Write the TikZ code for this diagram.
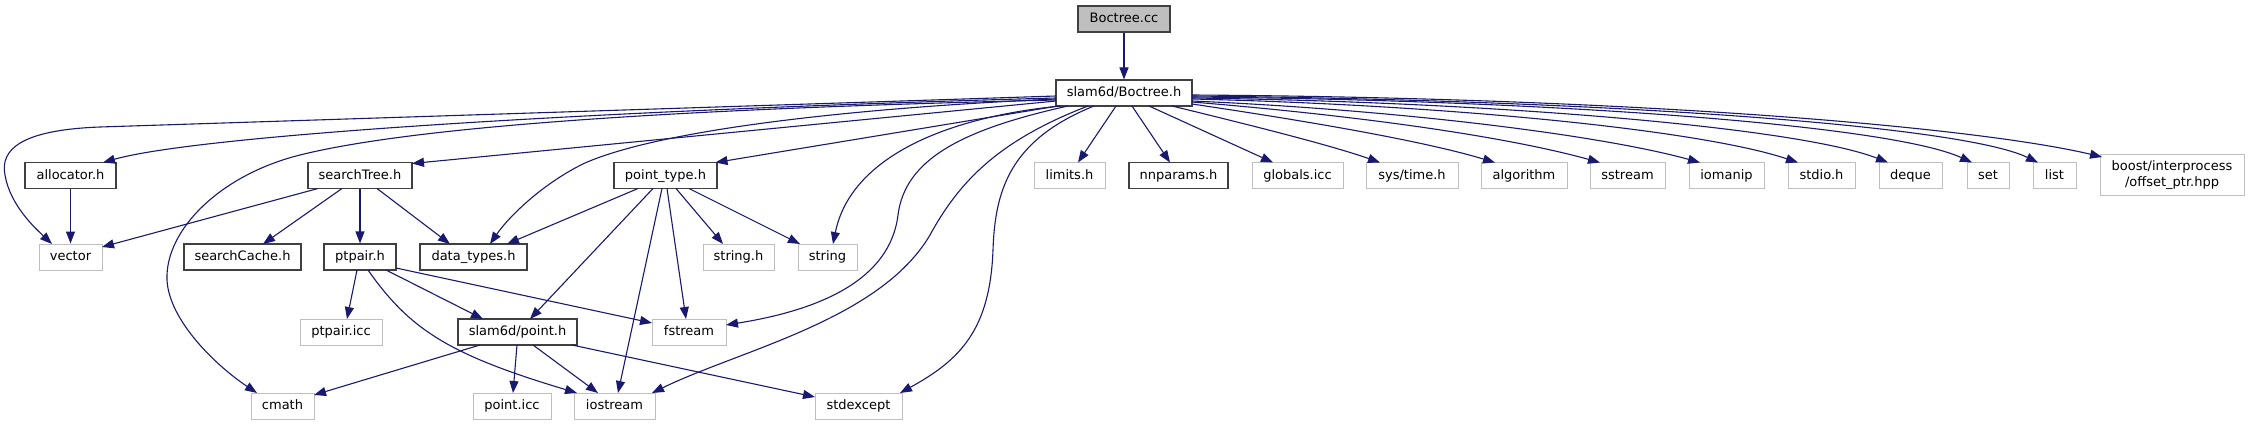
\documentclass[tikz,border=0pt]{standalone}
\usepackage{fontspec}
\setmainfont{DejaVu Sans}
\usetikzlibrary{arrows.meta,calc}
\definecolor{edgec}{HTML}{191970}
\definecolor{docb}{HTML}{404040}
\definecolor{extb}{HTML}{BFBFBF}
\definecolor{curf}{HTML}{BFBFBF}
\begin{document}
\begin{tikzpicture}[x=1pt,y=-1pt,
  box/.style={fill=white, minimum height=26pt, inner sep=0pt, text height=10pt, text depth=3pt, font=\fontsize{13}{15.6}\selectfont},
  doc/.style={box, draw=docb, line width=1.1pt},
  ext/.style={box, draw=extb, line width=1pt},
  dep/.style={draw=edgec, line width=1.1pt, -{Triangle[length=12pt,width=9pt,fill=edgec]}}]
\useasboundingbox (0,0) rectangle (2249,425);
% nodes
\node[doc, fill=curf, minimum width=92pt] (bc) at (1124,19) {Boctree.cc};
\node[doc, minimum width=136pt] (bh) at (1124,93) {slam6d/Boctree.h};
\node[doc, minimum width=91pt] (alloc) at (70.5,175.5) {allocator.h};
\node[ext, minimum width=63pt] (vec) at (70.5,257) {vector};
\node[doc, minimum width=104pt] (st) at (360,175.5) {searchTree.h};
\node[doc, minimum width=117pt] (sc) at (242.5,257) {searchCache.h};
\node[doc, minimum width=72pt] (pp) at (360,257) {ptpair.h};
\node[doc, minimum width=107pt] (dt) at (473.5,257) {data\_types.h};
\node[doc, minimum width=103pt] (pt) at (665.5,175.5) {point\_type.h};
\node[ext, minimum width=71pt] (strh) at (738.5,257) {string.h};
\node[ext, minimum width=59pt] (str) at (827.5,257) {string};
\node[ext, minimum width=82pt] (ppicc) at (341,332) {ptpair.icc};
\node[doc, minimum width=119pt] (pnt) at (517.5,332) {slam6d/point.h};
\node[ext, minimum width=74pt] (fs) at (689,332) {fstream};
\node[ext, minimum width=63pt] (cm) at (282.5,406) {cmath};
\node[ext, minimum width=78pt] (picc) at (512,406) {point.icc};
\node[ext, minimum width=81pt] (ios) at (614.5,406) {iostream};
\node[ext, minimum width=87pt] (se) at (858.5,406) {stdexcept};
\node[ext, minimum width=71pt] (lim) at (1069.5,175.5) {limits.h};
\node[doc, minimum width=99pt] (nn) at (1178.5,175.5) {nnparams.h};
\node[ext, minimum width=91pt] (glob) at (1297.5,175.5) {globals.icc};
\node[ext, minimum width=92pt] (sys) at (1412,175.5) {sys/time.h};
\node[ext, minimum width=86pt] (alg) at (1524,175.5) {algorithm};
\node[ext, minimum width=75pt] (ss) at (1627.5,175.5) {sstream};
\node[ext, minimum width=75pt] (iom) at (1726.5,175.5) {iomanip};
\node[ext, minimum width=67pt] (stdio) at (1821.5,175.5) {stdio.h};
\node[ext, minimum width=63pt] (dq) at (1910.5,175.5) {deque};
\node[ext, minimum width=42pt] (set) at (1988,175.5) {set};
\node[ext, minimum width=43pt] (list) at (2054.5,175.5) {list};
\node[ext, minimum width=144pt, minimum height=40pt, text height=, text depth=, align=center, inner sep=0pt] (boost) at (2172,175) {boost/interprocess\\/offset\_ptr.hpp};
% edges
\draw[dep] (bc.south) -- (bh.north);
% Boctree.h -> left
\draw[dep] ($(bh)+(-68,3)$) -- (100,127) .. controls (20,130) and (0,150) .. (5,175) .. controls (10,205) and (35,228) .. ($(vec)+(-18.5,-13)$);
\draw[dep] ($(bh)+(-68,5)$) .. controls (600,110) and (200,135) .. ($(alloc)+(32.5,-13)$);
\draw[dep] ($(bh)+(-68,7)$) .. controls (700,108) and (420,125) .. (300,155) .. controls (220,175) and (165,230) .. (167,280) .. controls (169,320) and (215,365) .. ($(cm)+(-25.5,-13)$);
\draw[dep] ($(bh)+(-68,8)$) -- ($(st)+(52,-12)$);
\draw[dep] ($(bh)+(-68,6)$) .. controls (850,108) and (660,130) .. (585,163) .. controls (545,182) and (510,215) .. ($(dt)+(16.5,-13)$);
\draw[dep] ($(bh)+(-66,13)$) -- ($(pt)+(50,-13)$);
\draw[dep] ($(bh)+(-64,13)$) .. controls (940,118) and (850,160) .. ($(str)+(5.5,-13)$);
\draw[dep] ($(bh)+(-56,13)$) .. controls (960,130) and (905,160) .. (898,215) .. controls (890,280) and (820,310) .. ($(fs)+(37,-7)$);
\draw[dep] ($(bh)+(-36,13)$) .. controls (1000,140) and (960,180) .. (930,235) .. controls (880,320) and (740,350) .. ($(ios)+(37.5,-13)$);
\draw[dep] ($(bh)+(-30,13)$) .. controls (1010,140) and (995,190) .. (993,250) .. controls (990,330) and (960,360) .. ($(se)+(41.5,-13)$);
% Boctree.h -> right
\draw[dep] ($(bh)+(-8,13)$) -- ($(lim)+(8.5,-13)$);
\draw[dep] ($(bh)+(8,13)$) -- ($(nn)+(-8.5,-13)$);
\draw[dep] ($(bh)+(25,13)$) -- ($(glob)+(-24.5,-13)$);
\draw[dep] ($(bh)+(48,13)$) .. controls (1250,125) and (1330,145) .. ($(sys)+(-32,-13)$);
\draw[dep] ($(bh)+(68,11)$) .. controls (1300,120) and (1420,140) .. ($(alg)+(-29,-13)$);
\draw[dep] ($(bh)+(68,9)$) .. controls (1350,115) and (1500,135) .. ($(ss)+(-27.5,-13)$);
\draw[dep] ($(bh)+(68,8)$) .. controls (1400,110) and (1600,135) .. ($(iom)+(-26.5,-13)$);
\draw[dep] ($(bh)+(68,6)$) .. controls (1450,105) and (1700,130) .. ($(stdio)+(-23.5,-13)$);
\draw[dep] ($(bh)+(68,5)$) .. controls (1500,102) and (1800,128) .. ($(dq)+(-22.5,-13)$);
\draw[dep] ($(bh)+(68,4)$) .. controls (1550,100) and (1890,125) .. ($(set)+(-16,-13)$);
\draw[dep] ($(bh)+(68,3)$) .. controls (1600,100) and (1960,125) .. ($(list)+(-16.5,-13)$);
\draw[dep] ($(bh)+(68,2)$) .. controls (1650,98) and (1980,128) .. ($(boost)+(-70,-18)$);
% second level
\draw[dep] (alloc.south) -- (vec.north);
\draw[dep] ($(st)+(-42,13)$) -- ($(vec)+(31.5,-10)$);
\draw[dep] ($(st)+(-18,13)$) -- ($(sc)+(20.5,-13)$);
\draw[dep] (st.south) -- (pp.north);
\draw[dep] ($(st)+(17,13)$) -- ($(dt)+(-23.5,-13)$);
\draw[dep] ($(pt)+(-27.5,13)$) -- ($(dt)+(33.5,-13)$);
\draw[dep] ($(pt)+(-12.5,13)$) -- ($(pnt)+(12.5,-13)$);
\draw[dep] ($(pt)+(-3.5,13)$) -- ($(ios)+(3.5,-13)$);
\draw[dep] ($(pt)+(1.5,13)$) -- ($(fs)+(-3,-13)$);
\draw[dep] ($(pt)+(10.5,13)$) -- ($(strh)+(-15.5,-13)$);
\draw[dep] ($(pt)+(23.5,13)$) -- ($(str)+(-27.5,-13)$);
\draw[dep] ($(pp)+(-3,13)$) -- ($(ppicc)+(6,-13)$);
\draw[dep] ($(pp)+(26,13)$) -- ($(pnt)+(-34.5,-13)$);
\draw[dep] ($(pp)+(36,11)$) -- ($(fs)+(-37,-9)$);
\draw[dep] ($(pp)+(8,13)$) .. controls (410,330) and (450,355) .. ($(ios)+(-37.5,-13)$);
\draw[dep] ($(pnt)+(-37.5,13)$) -- ($(cm)+(31.5,-11)$);
\draw[dep] ($(pnt)+(-0.5,13)$) -- ($(picc)+(1,-13)$);
\draw[dep] ($(pnt)+(15.5,13)$) -- ($(ios)+(-16.5,-13)$);
\draw[dep] ($(pnt)+(54.5,13)$) -- ($(se)+(-43.5,-9)$);
\end{tikzpicture}
\end{document}
